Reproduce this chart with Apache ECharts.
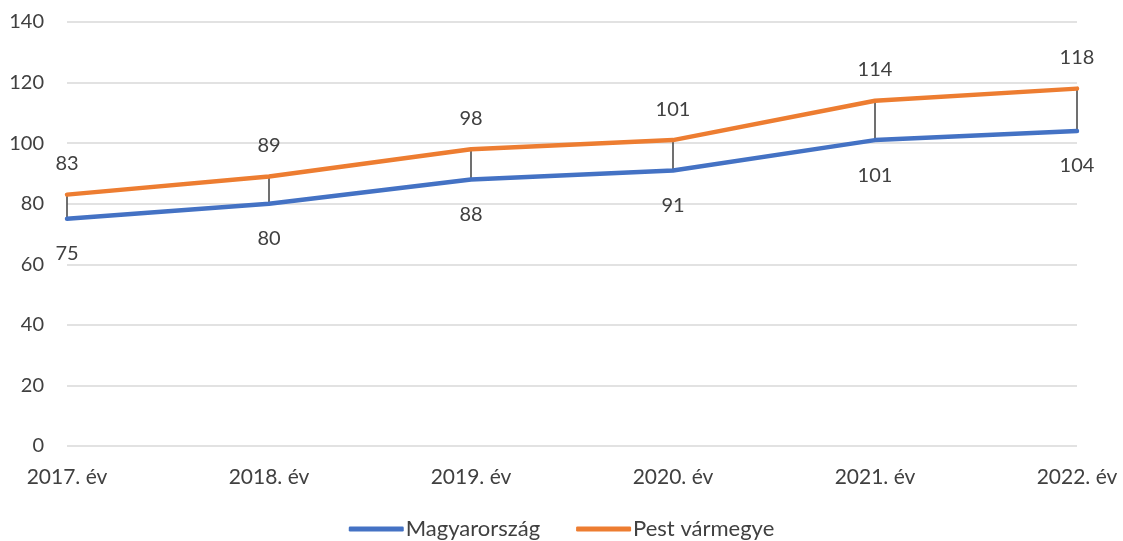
<!DOCTYPE html>
<html>
<head>
<meta charset="utf-8">
<script src="https://cdn.jsdelivr.net/npm/echarts@6/dist/echarts.min.js"></script>
<style>
  html, body { margin: 0; padding: 0; background: #fff; }
  #chart { width: 1123px; height: 541px; }
</style>
</head>
<body>
<div id="chart"></div>
<script>
const years = ['2017. év', '2018. év', '2019. év', '2020. év', '2021. év', '2022. év'];
const magyarorszag = [75, 80, 88, 91, 101, 104];
const pest = [83, 89, 98, 101, 114, 118];
const seriesNames = ['Magyarország', 'Pest vármegye'];

const FONT = 'Lato';
const TEXT = '#404040';

const chart = echarts.init(document.getElementById('chart'));

// vertical connectors between the two series at each year
const spans = years.map((y, i) => [i, magyarorszag[i], pest[i]]);

chart.setOption({
  animation: false,
  textStyle: { fontFamily: FONT },
  grid: { left: 67, right: 46, top: 22, bottom: 95 },
  legend: {
    bottom: -4,
    left: 'center',
    itemWidth: 55,
    itemHeight: 5,
    itemGap: 36,
    icon: 'roundRect',
    textStyle: { fontFamily: FONT, fontSize: 22, color: TEXT, padding: [0, 0, 0, -3] },
    data: seriesNames
  },
  xAxis: {
    type: 'category',
    data: years,
    boundaryGap: false,
    axisLine: { show: false },
    axisTick: { show: false },
    axisLabel: { fontFamily: FONT, fontSize: 21, color: TEXT, margin: 21 }
  },
  yAxis: {
    type: 'value',
    min: 0,
    max: 140,
    interval: 20,
    axisLine: { show: false },
    axisTick: { show: false },
    splitLine: { lineStyle: { color: '#d9d9d9', width: 1.5 } },
    axisLabel: { fontFamily: FONT, fontSize: 20, color: TEXT, margin: 23 }
  },
  series: [
    {
      type: 'custom',
      z: 1,
      silent: true,
      data: spans,
      renderItem: function (params, api) {
        const a = api.coord([api.value(0), api.value(1)]);
        const b = api.coord([api.value(0), api.value(2)]);
        return {
          type: 'line',
          shape: { x1: a[0], y1: a[1], x2: b[0], y2: b[1] },
          style: { stroke: '#404040', lineWidth: 1.5 }
        };
      }
    },
    {
      name: seriesNames[0],
      type: 'line',
      data: magyarorszag,
      z: 3,
      symbol: 'circle',
      symbolSize: 2,
      showSymbol: true,
      itemStyle: { color: '#4472C4' },
      lineStyle: { width: 4.5, color: '#4472C4', cap: 'round', join: 'round' },
      label: {
        show: true, position: 'bottom', distance: 24,
        fontFamily: FONT, fontSize: 20, color: TEXT
      }
    },
    {
      name: seriesNames[1],
      type: 'line',
      data: pest,
      z: 3,
      symbol: 'circle',
      symbolSize: 2,
      showSymbol: true,
      itemStyle: { color: '#ED7D31' },
      lineStyle: { width: 4.5, color: '#ED7D31', cap: 'round', join: 'round' },
      label: {
        show: true, position: 'top', distance: 20,
        fontFamily: FONT, fontSize: 20, color: TEXT
      }
    }
  ]
});
</script>
</body>
</html>
